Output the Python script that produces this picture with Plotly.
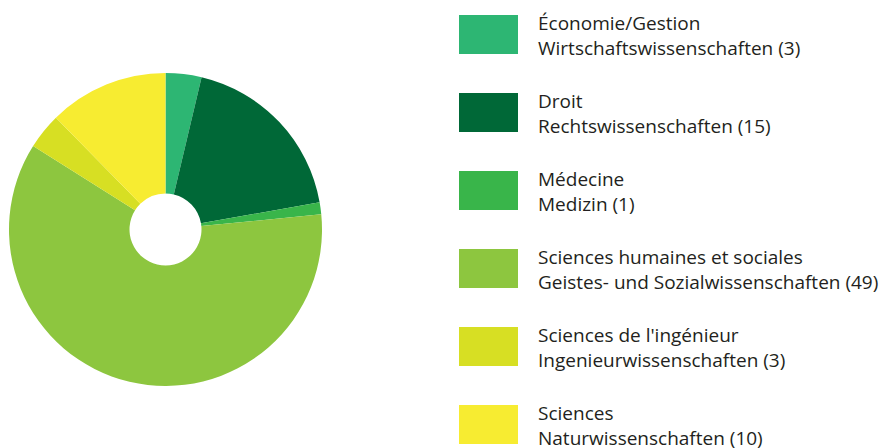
import plotly.graph_objects as go

# page body has an 8px margin, so the figure is drawn 8px smaller and shifted
OFF = 8
W, H = 887 - OFF, 448 - OFF

labels_fr = ["Économie/Gestion", "Droit", "Médecine", "Sciences humaines et sociales",
             "Sciences de l'ingénieur", "Sciences"]
labels_de = ["Wirtschaftswissenschaften", "Rechtswissenschaften", "Medizin",
             "Geistes- und Sozialwissenschaften", "Ingenieurwissenschaften", "Naturwissenschaften"]
values = [3, 15, 1, 49, 3, 10]
colors = ["#2db673", "#006837", "#39b54a", "#8dc63f", "#d7df23", "#f7ec31"]


def px(x):
    return (x - OFF) / W


def py(y):
    return 1 - (y - OFF) / H


fig = go.Figure()
fig.add_trace(go.Pie(
    values=values,
    labels=labels_fr,
    marker=dict(colors=colors, line=dict(width=0)),
    hole=0.23,
    sort=False,
    direction="clockwise",
    rotation=0,
    textinfo="none",
    hoverinfo="label+value",
    showlegend=False,
    domain=dict(x=[px(9), px(322)], y=[py(386), py(73)]),
))

shapes = []
annotations = []
for i, (fr, de, v, c) in enumerate(zip(labels_fr, labels_de, values, colors)):
    top = 15 + 78 * i
    shapes.append(dict(type="rect", xref="paper", yref="paper",
                       x0=px(459), x1=px(518), y0=py(top + 39), y1=py(top),
                       fillcolor=c, line=dict(width=0)))
    annotations.append(dict(xref="paper", yref="paper", x=px(536), y=py(top + 20.5),
                            xanchor="left", yanchor="middle", align="left",
                            showarrow=False,
                            text=f"{fr}<br>{de} ({v})",
                            font=dict(family="Open Sans, Liberation Sans, Arial", size=19,
                                      color="#231f20")))

fig.update_layout(
    width=W, height=H,
    margin=dict(l=0, r=0, t=0, b=0),
    paper_bgcolor="white",
    plot_bgcolor="white",
    shapes=shapes,
    annotations=annotations,
)

fig.write_html("out.html")
